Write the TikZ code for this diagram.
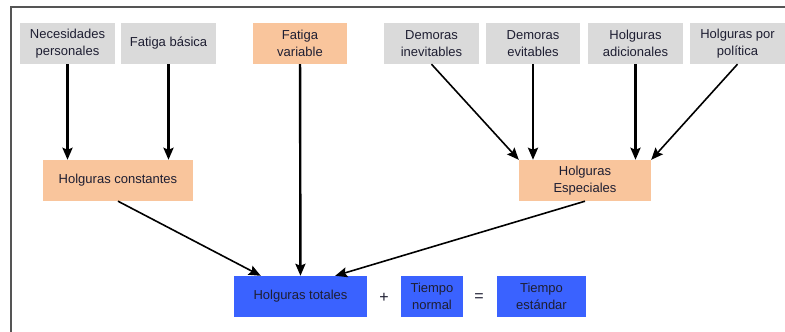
\documentclass[tikz,border=0pt]{standalone}
\usepackage{fontspec}
\setmainfont{Liberation Sans}
\usepackage{xcolor}
\usetikzlibrary{arrows.meta}
\definecolor{grisbox}{HTML}{DADADA}
\definecolor{naranja}{HTML}{F9C59C}
\definecolor{azul}{HTML}{3A62FF}
\definecolor{textoc}{HTML}{1E1E32}
\definecolor{marco}{HTML}{555555}

\begin{document}
\begin{tikzpicture}[x=1pt, y=-1pt, >={Stealth[length=12pt,width=10pt,inset=2pt]},
  caja/.style={minimum height=41pt, inner sep=0pt, align=center, text=textoc,
    font=\fontsize{13}{17}\selectfont},
  gris/.style={caja, fill=grisbox},
  nar/.style={caja, fill=naranja},
  azu/.style={caja, fill=azul},
  signo/.style={inner sep=0pt, text=textoc, font=\fontsize{16}{16}\selectfont},
  flecha/.style={->, line width=2.4pt},
  diag/.style={->, line width=1.6pt}]
\useasboundingbox (0,0) rectangle (785,332);
\draw[marco, line width=2pt] (11,332) -- (11,7) -- (785,7);

% fila superior
\node[gris, minimum width=95pt] (nec) at (67.5,43.5) {Necesidades\\personales};
\node[gris, minimum width=95pt] (fbas) at (168.5,43.5) {Fatiga b\'asica};
\node[nar, minimum width=94pt] (fvar) at (300,43.5) {Fatiga\\variable};
\node[gris, minimum width=95pt] (dinev) at (431.5,43.5) {Demoras\\inevitables};
\node[gris, minimum width=94pt] (devit) at (533,43.5) {Demoras\\evitables};
\node[gris, minimum width=95pt] (hadic) at (635.5,43.5) {Holguras\\adicionales};
\node[gris, minimum width=95pt] (hpol) at (737.5,43.5) {Holguras por\\pol\'itica};

% fila media
\node[nar, minimum width=150pt] (hcons) at (118,180.5) {Holguras constantes};
\node[nar, minimum width=132pt] (hesp) at (585,180.5) {Holguras\\Especiales};

% fila inferior
\node[azu, minimum width=133pt] (htot) at (300.5,296.5) {Holguras totales};
\node[signo] (mas) at (384,298) {+};
\node[azu, minimum width=62pt] (tnor) at (432,296.5) {Tiempo\\normal};
\node[signo] (igual) at (479,298) {=};
\node[azu, minimum width=89pt] (test) at (541.5,296.5) {Tiempo\\est\'andar};

\draw[flecha] (nec) -- (nec |- hcons.north);
\draw[flecha] (fbas) -- (fbas |- hcons.north);
\draw[flecha] (fvar) -- (htot);
\draw[diag] (dinev.south) -- (hesp.north west);
\draw[flecha] (devit) -- (devit |- hesp.north);
\draw[flecha] (hadic) -- (hadic |- hesp.north);
\draw[diag] (hpol.south) -- (hesp.north east);
\draw[diag] (hcons.south) -- ([xshift=27pt]htot.north west);
\draw[diag] (hesp.south) -- ([xshift=-32pt]htot.north east);
\end{tikzpicture}
\end{document}
